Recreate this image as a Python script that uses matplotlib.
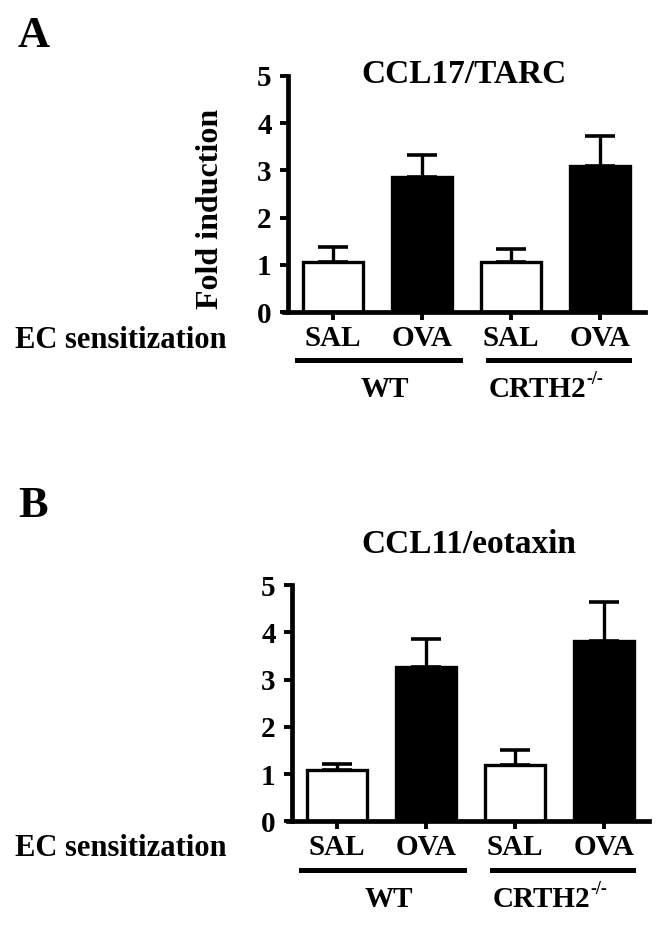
import numpy as np
import matplotlib
matplotlib.use('Agg')
import matplotlib.pyplot as plt
import matplotlib.transforms as mtransforms

plt.rcParams['font.family'] = 'Liberation Serif'
plt.rcParams['font.weight'] = 'bold'

conditions = ['SAL', 'OVA', 'SAL', 'OVA']
colors = ['white', 'black', 'white', 'black']

# panel A: CCL17/TARC
tarc_mean = [1.06, 2.86, 1.05, 3.10]
tarc_err = [0.32, 0.47, 0.28, 0.62]
# panel B: CCL11/eotaxin
eotaxin_mean = [1.08, 3.26, 1.20, 3.82]
eotaxin_err = [0.13, 0.60, 0.32, 0.83]

fig = plt.figure(figsize=(6.62, 9.26), dpi=100)


def panel(rect, mean, err, title, title_y, ec_y):
    ax = fig.add_axes(rect)
    x = np.arange(len(mean))
    ax.bar(x, mean, width=0.67, color=colors, edgecolor='black', linewidth=2.4, zorder=2)
    ax.errorbar(x, mean, yerr=[np.zeros(len(err)), err], fmt='none', ecolor='black',
                elinewidth=2.4, capsize=11, capthick=2.6, zorder=1)
    ax.set_xlim(-0.55, 3.5)
    ax.set_ylim(0, 5)
    ax.set_yticks([0, 1, 2, 3, 4, 5])
    ax.set_xticks(x)
    ax.set_xticklabels(conditions, fontsize=21)
    ax.tick_params(axis='y', labelsize=21, width=2.8, length=6, pad=6)
    ax.tick_params(axis='x', width=2.8, length=6, pad=3)
    for s in ['top', 'right']:
        ax.spines[s].set_visible(False)
    for s in ['left', 'bottom']:
        ax.spines[s].set_linewidth(3.4)
    ax.spines['left'].set_position(('axes', 0.012))
    ax.text(0.5, title_y, title, transform=ax.transAxes, ha='center', va='baseline',
            fontsize=24, fontweight='bold')
    tr = mtransforms.blended_transform_factory(ax.transData, ax.transAxes)
    ax.plot([-0.40, 1.43], [-0.205, -0.205], color='black', lw=3.6, transform=tr, clip_on=False)
    ax.plot([1.74, 3.32], [-0.205, -0.205], color='black', lw=3.6, transform=tr, clip_on=False)
    ax.text(0.58, -0.33, 'WT', transform=tr, ha='center', va='center', fontsize=21)
    t = ax.text(1.75, -0.33, 'CRTH2', transform=tr, ha='left', va='center', fontsize=21)
    ax.annotate('-/-', xy=(1.0, 0.88), xycoords=t, ha='left', va='center', fontsize=13)
    fig.text(0.022, ec_y, 'EC sensitization', fontsize=22, va='baseline')
    return ax


axA = panel([0.429, 0.663, 0.545, 0.255], tarc_mean, tarc_err, 'CCL17/TARC', 0.97, 1 - 348 / 926)
fig.text(211 / 662, 1 - 209 / 926, 'Fold induction', rotation=90, ha='center', va='center',
         fontsize=23, fontweight='bold')
axB = panel([0.435, 0.113, 0.545, 0.255], eotaxin_mean, eotaxin_err, 'CCL11/eotaxin', 1.136, 1 - 856 / 926)

fig.text(0.027, 1 - 47 / 926, 'A', fontsize=32, fontweight='bold', va='baseline')
fig.text(0.027, 1 - 517 / 926, 'B', fontsize=32, fontweight='bold', va='baseline')

fig.savefig('out.png', dpi=100)
